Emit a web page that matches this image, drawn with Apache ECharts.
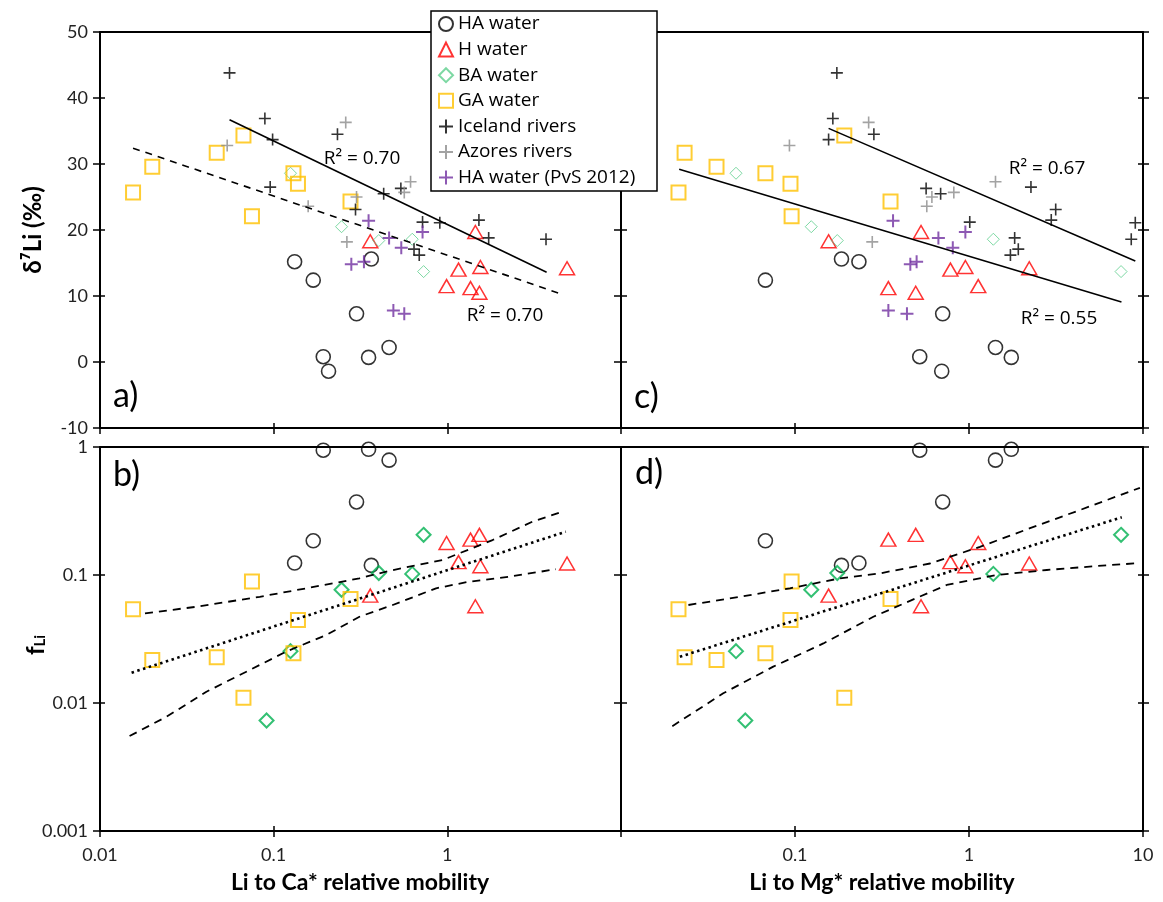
<!DOCTYPE html>
<html><head><meta charset="utf-8">
<script src="https://cdn.jsdelivr.net/npm/echarts@6/dist/echarts.min.js"></script>
<style>html,body{margin:0;padding:0;background:#fff}#c{width:1163px;height:902px}</style>
</head><body><div id="c"></div>
<script>
// ---------------- DATA ----------------
// HA water (circles)
const haCa = [0.132, 0.169, 0.300, 0.365, 0.193, 0.207, 0.352, 0.462];
const haMg = [0.233, 0.0676, 0.706, 0.185, 0.521, 0.697, 1.75, 1.42];
const haD7 = [15.2, 12.4, 7.3, 15.6, 0.8, -1.4, 0.7, 2.2];
const haF  = [0.124, 0.185, 0.372, 0.119, 0.944, null, 0.96, 0.789];
// H water (triangles)
const hCa = [0.36, 1.45, 1.16, 1.55, 0.99, 1.36, 1.53, 4.89];
const hMg = [0.156, 0.53, 0.782, 0.953, 1.13, 0.344, 0.494, 2.22];
const hD7 = [18.3, 19.7, 14.0, 14.4, 11.5, 11.2, 10.5, 14.2];
const hF  = [0.069, 0.057, 0.126, 0.117, 0.178, 0.189, 0.206, 0.123];
// BA water (diamonds)
const baCa = [0.125, 0.246, 0.403, 0.628, 0.73, 0.091];
const baMg = [0.0458, 0.124, 0.175, 1.38, 7.48, 0.0518];
const baD7 = [28.6, 20.5, 18.4, 18.6, 13.7, null];
const baF  = [0.0254, 0.0767, 0.1036, 0.102, 0.206, 0.0073];
// GA water (squares)
const gaCa = [0.0155, 0.020, 0.047, 0.067, 0.075, 0.130, 0.138, 0.277];
const gaMg = [0.0214, 0.0354, 0.0232, 0.192, 0.0956, 0.0676, 0.0942, 0.354];
const gaD7 = [25.7, 29.6, 31.7, 34.3, 22.1, 28.6, 27.0, 24.3];
const gaF  = [0.054, 0.0217, 0.0228, 0.011, 0.089, 0.0245, 0.0446, 0.065];
// Iceland rivers
const icCa = [0.0557, 0.089, 0.0986, 0.233, 0.0955, 0.296, 0.43, 0.54, 0.72, 0.905, 1.52, 1.73, 3.70, 0.643, 0.689];
const icMg = [0.174, 0.165, 0.156, 0.284, 2.27, 3.15, 0.687, 0.567, 1.01, 9.03, 2.97, 1.83, 8.56, 1.92, 1.73];
const icD7 = [43.8, 36.9, 33.7, 34.5, 26.5, 23.1, 25.5, 26.3, 21.2, 21.1, 21.5, 18.8, 18.6, 17.1, 16.2];
// Azores rivers
const azCa = [0.054, 0.260, 0.614, 0.565, 0.300, 0.158, 0.264];
const azMg = [0.0929, 0.265, 1.42, 0.818, 0.612, 0.572, 0.278];
const azD7 = [32.8, 36.3, 27.3, 25.7, 25.0, 23.6, 18.2];
// HA water (PvS 2012)
const pvCa = [0.352, 0.462, 0.543, 0.72, 0.280, 0.331, 0.489, 0.565];
const pvMg = [0.366, 0.667, 0.807, 0.953, 0.46, 0.50, 0.344, 0.44];
const pvD7 = [21.4, 18.8, 17.3, 19.7, 14.8, 15.2, 7.8, 7.3];

// Trend lines
const trendAsolidX = [0.0557, 3.73], trendAsolidY = [36.7, 13.6];
const trendAdashX  = [0.0155, 4.48], trendAdashY  = [32.4, 10.35];
const trendCupX    = [0.156, 9.03],  trendCupY    = [35.4, 15.3];
const trendClowX   = [0.0216, 7.52], trendClowY   = [29.2, 9.1];
const fitBX = [0.0152, 4.81], fitBY = [0.01725, 0.218];
const bandBupX = [0.01816, 0.0360, 0.0832, 0.154, 0.312, 0.465, 0.940, 1.82, 3.09, 4.50];
const bandBupY = [0.0502, 0.0565, 0.0676, 0.0787, 0.0942, 0.108, 0.131, 0.1875, 0.261, 0.309];
const bandBloX = [0.0148, 0.0242, 0.0410, 0.0728, 0.118, 0.201, 0.312, 0.485, 0.861, 1.337, 2.27, 4.22];
const bandBloY = [0.00552, 0.00782, 0.01225, 0.0181, 0.0252, 0.0340, 0.0472, 0.0583, 0.0787, 0.0887, 0.0970, 0.111];
const fitDX = [0.0218, 7.55], fitDY = [0.023, 0.2825];
const bandDupX = [0.0244, 0.0483, 0.0935, 0.1816, 0.308, 0.597, 1.156, 2.244, 4.345, 9.6];
const bandDupY = [0.0583, 0.0676, 0.0787, 0.0942, 0.103, 0.123, 0.166, 0.232, 0.322, 0.48];
const bandDloX = [0.01972, 0.0387, 0.0750, 0.1455, 0.282, 0.745, 1.442, 2.80, 5.42, 9.0];
const bandDloY = [0.00659, 0.0119, 0.01923, 0.0292, 0.0472, 0.0836, 0.100, 0.1094, 0.1175, 0.1233];

const xTicksLeft  = ['0.01', '0.1', '1'];
const xTicksRight = ['0.1', '1', '10'];
const r2Labels = ['R² = 0.70', 'R² = 0.70', 'R² = 0.67', 'R² = 0.55'];

// ---------------- BUILD ----------------
const pts = (xs, ys) => xs.map((x, i) => [x, ys[i]]).filter(p => p[0] != null && p[1] != null);
const PLUS = 'path://M0,5L10,5M5,0L5,10';
const T = 'rgba(0,0,0,0)';
const sty = {
  HA: {symbol: 'circle', symbolSize: 14, itemStyle: {color: T, borderColor: '#000', borderWidth: 1.6}},
  H:  {symbol: 'triangle', symbolSize: [15, 13], itemStyle: {color: T, borderColor: '#ff0000', borderWidth: 1.5}},
  BAt:{symbol: 'diamond', symbolSize: 12, itemStyle: {color: T, borderColor: '#5cce8c', borderWidth: 1}},
  BAb:{symbol: 'diamond', symbolSize: 14, itemStyle: {color: T, borderColor: '#00b050', borderWidth: 2}},
  GA: {symbol: 'rect', symbolSize: 14, itemStyle: {color: T, borderColor: '#ffc000', borderWidth: 2}},
  IC: {symbol: PLUS, symbolSize: 12, itemStyle: {color: T, borderColor: '#000', borderWidth: 1.6}},
  AZ: {symbol: PLUS, symbolSize: 12, itemStyle: {color: T, borderColor: '#8c8c8c', borderWidth: 1.6}},
  PV: {symbol: PLUS, symbolSize: 13, itemStyle: {color: T, borderColor: '#7030a0', borderWidth: 2}}
};

const grids = [
  {left: 100, top: 32, width: 521, height: 396},   // a
  {left: 621, top: 32, width: 522, height: 396},   // c
  {left: 100, top: 447, width: 521, height: 384},  // b
  {left: 621, top: 447, width: 522, height: 384}   // d
];
const xAxes = [], yAxes = [], series = [];
const fmt = v => String(Number(Number(v).toPrecision(3)));
const axLine = {show: true, onZero: false, lineStyle: {color: '#000', width: 2}};
const tickSt = {color: '#000', width: 1.5};
const lblSt = {fontSize: 18, fontFamily: 'Lato', color: '#222'};

function addAxes(gi, isTop, showYLabels, showXLabels, xShow) {
  const xb = {type: 'log', logBase: 10, min: 0.01, max: 10, gridIndex: gi, splitLine: {show: false}, minorTick: {show: false}, minorSplitLine: {show: false}};
  xAxes.push(Object.assign({}, xb, {position: 'bottom', axisLine: axLine,
    axisTick: {show: true, inside: false, length: 6, lineStyle: tickSt},
    axisLabel: Object.assign({show: showXLabels, margin: 15, formatter: v => xShow.includes(fmt(v)) ? fmt(v) : ''}, lblSt)}));
  xAxes.push(Object.assign({}, xb, {position: 'bottom', axisLine: {show: false, onZero: false},
    axisTick: {show: true, inside: true, length: 5, lineStyle: tickSt}, axisLabel: {show: false}}));
  xAxes.push(Object.assign({}, xb, {position: 'top', axisLine: axLine, axisTick: {show: false}, axisLabel: {show: false}}));
  const yb = isTop
    ? {type: 'value', min: -10, max: 50, interval: 10, gridIndex: gi, splitLine: {show: false}}
    : {type: 'log', logBase: 10, min: 0.001, max: 1, gridIndex: gi, splitLine: {show: false}, minorTick: {show: false}, minorSplitLine: {show: false}};
  yAxes.push(Object.assign({}, yb, {position: 'left', axisLine: axLine,
    axisTick: {show: true, inside: false, length: 7, lineStyle: tickSt},
    axisLabel: Object.assign({show: showYLabels, margin: 12, formatter: v => fmt(v)}, lblSt)}));
  yAxes.push(Object.assign({}, yb, {position: 'left', axisLine: {show: false, onZero: false},
    axisTick: {show: true, inside: true, length: 5, lineStyle: tickSt}, axisLabel: {show: false}}));
  yAxes.push(Object.assign({}, yb, {position: 'right', axisLine: axLine,
    axisTick: {show: true, inside: false, length: 6, lineStyle: tickSt}, axisLabel: {show: false}}));
  yAxes.push(Object.assign({}, yb, {position: 'right', axisLine: {show: false, onZero: false},
    axisTick: {show: true, inside: true, length: 5, lineStyle: tickSt}, axisLabel: {show: false}}));
}
addAxes(0, true, true, false, xTicksLeft);
addAxes(1, true, false, false, xTicksRight);
addAxes(2, false, true, true, xTicksLeft);
addAxes(3, false, false, true, xTicksRight);

function scat(gi, name, s, data) {
  series.push(Object.assign({type: 'scatter', name: name, xAxisIndex: 3 * gi, yAxisIndex: 4 * gi, data: data,
    silent: true, z: 3, emphasis: {disabled: true}}, JSON.parse(JSON.stringify(s))));
}
function line(gi, data, type, width) {
  series.push({type: 'line', xAxisIndex: 3 * gi, yAxisIndex: 4 * gi, data: data, symbol: 'none', silent: true, z: 4,
    lineStyle: {color: '#000', width: width || 1.6, type: type, cap: 'butt'}, emphasis: {disabled: true}});
}
// panel a (Ca, d7Li)
scat(0, 'HA water', sty.HA, pts(haCa, haD7));
scat(0, 'H water', sty.H, pts(hCa, hD7));
scat(0, 'BA water', sty.BAt, pts(baCa, baD7));
scat(0, 'GA water', sty.GA, pts(gaCa, gaD7));
scat(0, 'Iceland rivers', sty.IC, pts(icCa, icD7));
scat(0, 'Azores rivers', sty.AZ, pts(azCa, azD7));
scat(0, 'HA water (PvS 2012)', sty.PV, pts(pvCa, pvD7));
line(0, pts(trendAsolidX, trendAsolidY), 'solid', 1.6);
line(0, pts(trendAdashX, trendAdashY), [7, 6], 1.6);
// panel c (Mg, d7Li)
scat(1, 'HA water', sty.HA, pts(haMg, haD7));
scat(1, 'H water', sty.H, pts(hMg, hD7));
scat(1, 'BA water', sty.BAt, pts(baMg, baD7));
scat(1, 'GA water', sty.GA, pts(gaMg, gaD7));
scat(1, 'Iceland rivers', sty.IC, pts(icMg, icD7));
scat(1, 'Azores rivers', sty.AZ, pts(azMg, azD7));
scat(1, 'HA water (PvS 2012)', sty.PV, pts(pvMg, pvD7));
line(1, pts(trendCupX, trendCupY), 'solid', 1.6);
line(1, pts(trendClowX, trendClowY), 'solid', 1.6);
// panel b (Ca, fLi)
scat(2, 'HA water', sty.HA, pts(haCa, haF));
scat(2, 'H water', sty.H, pts(hCa, hF));
scat(2, 'BA water', sty.BAb, pts(baCa, baF));
scat(2, 'GA water', sty.GA, pts(gaCa, gaF));
line(2, pts(bandBupX, bandBupY), [8, 6], 1.8);
line(2, pts(bandBloX, bandBloY), [8, 6], 1.8);
line(2, pts(fitBX, fitBY), [2.5, 3.5], 2.6);
// panel d (Mg, fLi)
scat(3, 'HA water', sty.HA, pts(haMg, haF));
scat(3, 'H water', sty.H, pts(hMg, hF));
scat(3, 'BA water', sty.BAb, pts(baMg, baF));
scat(3, 'GA water', sty.GA, pts(gaMg, gaF));
line(3, pts(bandDupX, bandDupY), [8, 6], 1.8);
line(3, pts(bandDloX, bandDloY), [8, 6], 1.8);
line(3, pts(fitDX, fitDY), [2.5, 3.5], 2.6);

const txt = (x, y, text, o) => Object.assign({type: 'text', x: x, y: y, z: 20,
  style: Object.assign({text: text, fill: '#000', fontFamily: 'Lato', fontSize: 17, align: 'center', verticalAlign: 'middle'}, o || {})});

const option = {
  animation: false,
  grid: grids,
  xAxis: xAxes,
  yAxis: yAxes,
  legend: {
    orient: 'vertical', left: 431, top: 11, padding: [3, 8, 3, 7], itemWidth: 14, itemHeight: 14, itemGap: 5.6,
    selectedMode: false, z: 30,
    textStyle: {fontFamily: 'Open Sans', fontSize: 19, color: '#000', lineHeight: 20},
    data: ['HA water', 'H water', 'BA water', 'GA water', 'Iceland rivers', 'Azores rivers', 'HA water (PvS 2012)']
  },
  series: series,
  graphic: [
    {type: 'rect', z: 25, shape: {x: 431, y: 11, width: 226, height: 180}, style: {fill: '#fff', stroke: '#000', lineWidth: 1.5}},
    txt(113, 396, 'a)', {fontSize: 34, align: 'left'}),
    txt(113, 475, 'b)', {fontSize: 34, align: 'left'}),
    txt(634, 397, 'c)', {fontSize: 34, align: 'left'}),
    txt(635, 473, 'd)', {fontSize: 34, align: 'left'}),
    txt(362, 159, r2Labels[0], {fontFamily: 'Open Sans', fontSize: 19}),
    txt(505, 316, r2Labels[1], {fontFamily: 'Open Sans', fontSize: 19}),
    txt(1047, 169, r2Labels[2], {fontFamily: 'Open Sans', fontSize: 19}),
    txt(1059, 319, r2Labels[3], {fontFamily: 'Open Sans', fontSize: 19}),
    txt(360, 883, 'Li to Ca* relative mobility', {fontWeight: 'bold', fontSize: 23}),
    txt(882, 883, 'Li to Mg* relative mobility', {fontWeight: 'bold', fontSize: 23}),
    Object.assign(txt(33, 230, 'δ⁷Li (‰)', {fontWeight: 'bold', fontSize: 24}), {rotation: Math.PI / 2}),
    Object.assign(txt(33, 645, '{f|f}{s|Li}', {fontWeight: 'bold', fontSize: 24,
      rich: {f: {fontFamily: 'Lato', fontWeight: 'bold', fontSize: 24, lineHeight: 30, verticalAlign: 'bottom'},
             s: {fontFamily: 'Lato', fontWeight: 'bold', fontSize: 15, lineHeight: 30, verticalAlign: 'bottom', padding: [9, 0, 0, 0]}}}), {rotation: Math.PI / 2})
  ]
};
const chart = echarts.init(document.getElementById('c'), null, {renderer: 'canvas'});
chart.setOption(option);
</script></body></html>
